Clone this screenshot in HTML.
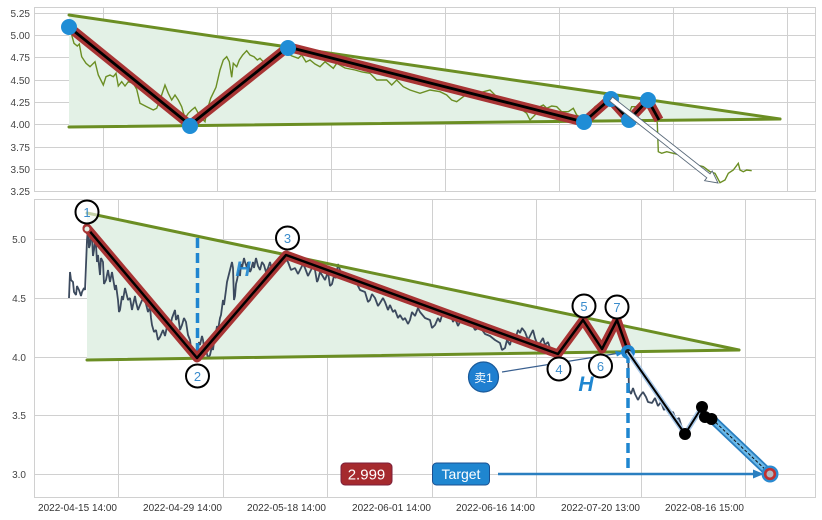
<!DOCTYPE html>
<html><head><meta charset="utf-8"><style>
html,body{margin:0;padding:0;background:#fff;}
svg{display:block;font-family:"Liberation Sans","Noto Sans CJK SC",sans-serif;}
</style></head><body>
<svg width="822" height="520" viewBox="0 0 822 520" xmlns="http://www.w3.org/2000/svg">
<!-- ================= TOP CHART ================= -->
<g stroke="#d0d0d0" stroke-width="1" fill="none">
  <rect x="34.5" y="7.5" width="781" height="184"/>
  <line x1="34" y1="13.5" x2="816" y2="13.5"/>
  <line x1="34" y1="35.5" x2="816" y2="35.5"/>
  <line x1="34" y1="57.5" x2="816" y2="57.5"/>
  <line x1="34" y1="80.5" x2="816" y2="80.5"/>
  <line x1="34" y1="102.5" x2="816" y2="102.5"/>
  <line x1="34" y1="124.5" x2="816" y2="124.5"/>
  <line x1="34" y1="147.5" x2="816" y2="147.5"/>
  <line x1="34" y1="169.5" x2="816" y2="169.5"/>
  <line x1="103.5" y1="7" x2="103.5" y2="192"/>
  <line x1="217.5" y1="7" x2="217.5" y2="192"/>
  <line x1="331.5" y1="7" x2="331.5" y2="192"/>
  <line x1="445.5" y1="7" x2="445.5" y2="192"/>
  <line x1="559.5" y1="7" x2="559.5" y2="192"/>
  <line x1="673.5" y1="7" x2="673.5" y2="192"/>
  <line x1="787.5" y1="7" x2="787.5" y2="192"/>
</g>
<g font-size="10" fill="#444" text-anchor="end">
  <text x="30" y="17">5.25</text>
  <text x="30" y="39">5.00</text>
  <text x="30" y="61">4.75</text>
  <text x="30" y="84">4.50</text>
  <text x="30" y="106">4.25</text>
  <text x="30" y="128">4.00</text>
  <text x="30" y="151">3.75</text>
  <text x="30" y="173">3.50</text>
  <text x="30" y="195">3.25</text>
</g>
<polygon points="69,15 780,119 69,127" fill="#e3f1e6"/>
<polyline fill="none" stroke="#6b8e23" stroke-width="1.4" points="71.7,35 74,43.3 77.3,46 79.3,44 81.7,56.7 86,63.3 90,66.7 95,61.7 98.3,75 103.3,85 106,76.7 110,75 113.3,76.7 116,73.3 118.3,86 121.7,81.7 125,86 128.3,81.7 133.3,83.3 136.7,89.3 140,103.3 146.7,106.7 153.3,110 156.7,108.3 160,100 165,85 168.3,93.3 171.7,100 175,95 178.3,100 181.7,106.7 185,118.3 188.3,113.3 191.7,110 195,107.3 198.3,113.3 201.7,118.3 205,121.7 206.7,111.7 210.7,98.3 216,87.3 220,70 223.3,60 226.7,56.7 229.3,61.7 231.7,77.3 233.3,63.3 236.7,66.7 239.3,60 242.7,55 246.7,50.7 250,55 254,56.7 257.3,60 260,58.3 263.3,61.7 266.7,60 275,55 286.7,53.3 292,56 298.3,58.3 301.7,55 306,62 310,60 315,64 320,66.7 325,61.7 333.3,68.3 336.7,63.3 345,68 355,70 362,72 370,73.3 376.7,80 386.7,80 391.7,85 396.7,80 403.3,86.7 410,90 420,93.3 430,90 440,91.7 446.7,95 451.7,100 456.7,101.7 463.3,96.7 473.3,90 480,92.7 490,90 496.7,96.7 510,103.3 520,108.3 526.7,113.3 530,120 535,115 540,106.7 543.3,105 546.7,108.3 551.7,106 556.7,106.7 561.7,111.7 568.3,111.7 573.3,108.3 576.7,115 581.7,118.3 588.3,115 595,106.7 600,103.3 606.7,100 610,98.3 616.7,105 623.3,111.7 628.3,115 631.7,106.7 640,106.7 646.7,100 651.7,106.7 656.7,120 657.3,123.3 658.3,151.7 661.7,153.3 666.7,151.7 673.3,153.3 680,155 685,160 690,161.7 696.7,165 703.3,166.7 710,171.7 715,173.3 720,182.7 725,180 728.3,173.3 733.3,170 738.3,163.3 740,170 743.3,171.7 746.7,170 751.7,170.7"/>
<g stroke="#6b8e23" stroke-width="3" stroke-linecap="round">
  <line x1="69" y1="15" x2="780" y2="119"/>
  <line x1="69" y1="127" x2="780" y2="119"/>
</g>
<polyline fill="none" stroke="#a83434" stroke-width="9.5" stroke-linejoin="round" points="69,27 190,125 288,47 584,122 610,99 629,120 648,100 659,120"/>
<polyline fill="none" stroke="#000" stroke-width="2.8" stroke-linejoin="round" points="69,27 190,125 288,47 584,122 610,99 629,120 648,100 659,120"/>
<g fill="#1f8dd6">
  <circle cx="69" cy="27" r="8"/>
  <circle cx="190" cy="126" r="8"/>
  <circle cx="288" cy="48" r="8"/>
  <circle cx="584" cy="122" r="8"/>
  <circle cx="611" cy="99" r="8"/>
  <circle cx="629" cy="120" r="8"/>
  <circle cx="648" cy="100" r="8"/>
</g>
<polygon points="609.5,101 706.8,177.8 704.6,180.7 718,183 712.2,171 710,173.9 612.5,97" fill="#fff" stroke="#5a6a7a" stroke-width="0.9"/>

<!-- ================= BOTTOM CHART ================= -->
<g stroke="#d0d0d0" stroke-width="1" fill="none">
  <rect x="34.5" y="199.5" width="781" height="298"/>
  <line x1="34" y1="239.5" x2="816" y2="239.5"/>
  <line x1="34" y1="298.5" x2="816" y2="298.5"/>
  <line x1="34" y1="357.5" x2="816" y2="357.5"/>
  <line x1="34" y1="415.5" x2="816" y2="415.5"/>
  <line x1="34" y1="474.5" x2="816" y2="474.5"/>
  <line x1="118.5" y1="199" x2="118.5" y2="497"/>
  <line x1="223.5" y1="199" x2="223.5" y2="497"/>
  <line x1="327.5" y1="199" x2="327.5" y2="497"/>
  <line x1="432.5" y1="199" x2="432.5" y2="497"/>
  <line x1="536.5" y1="199" x2="536.5" y2="497"/>
  <line x1="641.5" y1="199" x2="641.5" y2="497"/>
  <line x1="745.5" y1="199" x2="745.5" y2="497"/>
</g>
<g font-size="10" fill="#444" text-anchor="end">
  <text x="26" y="243">5.0</text>
  <text x="26" y="302">4.5</text>
  <text x="26" y="361">4.0</text>
  <text x="26" y="419">3.5</text>
  <text x="26" y="478">3.0</text>
</g>
<g font-size="10" fill="#333" text-anchor="end">
  <text x="117" y="511">2022-04-15 14:00</text>
  <text x="222" y="511">2022-04-29 14:00</text>
  <text x="326" y="511">2022-05-18 14:00</text>
  <text x="431" y="511">2022-06-01 14:00</text>
  <text x="535" y="511">2022-06-16 14:00</text>
  <text x="640" y="511">2022-07-20 13:00</text>
  <text x="744" y="511">2022-08-16 15:00</text>
</g>
<polygon points="87,213 739,350 87,360" fill="#e3f1e6"/>
<!-- candles -->
<polyline fill="none" stroke="#3c4a5e" stroke-width="1.8" stroke-linejoin="bevel" points="69,298 70,272 71,280 73,282 74,292 76,295 77,286 79,290 81,296 82,292 84,288 85,290 86,265 87,240 88,228 89,248 90,245 91,232 92,238 93,256 94,250 95,240 96,245 97,262 98,255 100,275 101,258 103,262 104,284 106,280 108,270 110,282 112,272 113,278 115,290 116,285 118,300 119,312 120,310 122,296 123,300 125,288 126,292 128,300 130,298 132,310 133,305 135,296 136,302 138,310 140,305 143,298 145,300 148,312 150,307 151,318 152,325 154,332 156,330 158,340 160,337 163,330 165,336 168,322 170,328 172,318 175,310 176,320 178,315 180,330 182,325 184,318 186,322 188,335 190,340 192,356 193,352 195,360 197,356 199,342 200,345 202,336 203,340 205,354 206,350 208,358 210,355 212,346 213,350 214,342 215,338 217,326 218,330 220,318 221,315 223,300 224,305 226,290 227,282 229,274 230,270 232,262 233,268 234,300 235,296 236,284 237,280 239,270 240,276 241,264 242,268 244,258 245,262 247,268 248,262 250,272 251,270 253,262 254,268 256,258 258,266 260,270 262,262 264,265 266,272 268,268 270,262 272,270 274,266 276,263 279,268 282,264 285,258 288,262 291,270 295,268 298,274 300,270 303,264 305,268 308,276 310,272 313,266 315,270 317,282 318,280 320,272 322,275 325,280 328,272 330,286 332,284 334,276 336,278 338,264 340,270 342,278 345,275 350,282 355,280 360,290 365,292 368,302 370,300 372,294 375,298 378,306 380,303 383,298 385,302 388,310 390,305 393,312 395,310 398,318 400,315 403,320 405,318 408,324 410,320 412,312 415,316 418,308 420,312 425,318 430,320 432,328 435,325 438,318 440,322 443,312 445,310 448,316 450,312 453,322 455,318 458,326 460,322 465,318 470,320 475,330 480,327 485,334 490,336 495,340 500,343 502,350 505,348 507,340 510,345 512,336 515,340 518,330 520,333 522,328 525,332 528,340 530,336 533,330 535,338 538,346 540,343 543,338 545,345 548,342 550,348 555,350 558,350 563,342 570,335 575,326 578,325 583,322 587,330 590,335 595,342 600,345 605,340 608,335 612,328 616,323 620,334 622,340 626,348 628,350 629,390 631,394 633,388 635,394 638,400 640,396 643,392 646,397 648,402 652,403 655,398 658,406 661,402 664,410 667,406 670,414 673,412 676,420 679,418 682,428"/>
<g stroke="#6b8e23" stroke-width="3" stroke-linecap="round">
  <line x1="87" y1="213" x2="739" y2="350"/>
  <line x1="87" y1="360" x2="739" y2="350"/>
</g>
<!-- blue dashed verticals -->
<g stroke="#1f86d0" stroke-width="3.5" stroke-dasharray="10,5">
  <line x1="197.5" y1="238" x2="197.5" y2="358"/>
  <line x1="628" y1="353" x2="628" y2="474"/>
</g>
<!-- zigzag -->
<polyline fill="none" stroke="#a83434" stroke-width="9" stroke-linejoin="round" stroke-linecap="round" points="87,228 197,358 286,255 558,354 583,320 602,349 617,320 628,351"/>
<polyline fill="none" stroke="#000" stroke-width="2.5" stroke-linejoin="round" points="87,228 197,358 286,255 558,354 583,320 602,349 617,320 628,351"/>
<circle cx="87" cy="229" r="3.5" fill="#e3f1e6" stroke="#a83434" stroke-width="2"/>
<!-- H labels -->
<g font-size="21" font-weight="bold" font-style="italic" fill="#1f86d0" text-anchor="middle">
  <text x="243" y="276" fill-opacity="0.9">H</text>
  <text x="586" y="391">H</text>
</g>
<!-- 卖1 -->
<line x1="502" y1="372" x2="620" y2="353" stroke="#3a6090" stroke-width="1.2"/>
<polygon points="624,352.5 615,351 617,356.5" fill="#1f86d0"/>
<circle cx="483.5" cy="377" r="15" fill="#1f7fd0" stroke="#1a5a9a" stroke-width="1.2"/>
<text x="483.5" y="382" font-size="12" fill="#fff" text-anchor="middle">卖1</text>
<!-- break point circle -->
<circle cx="628" cy="352" r="7" fill="#1f86d0"/>
<circle cx="628" cy="352" r="3" fill="#1a1a1a"/>
<!-- projection path -->
<polyline fill="none" stroke="#a8c8e8" stroke-width="5" stroke-linejoin="round" points="628,352 685,434 702,407 705,417 712,419"/>
<polyline fill="none" stroke="#000" stroke-width="2" stroke-linejoin="round" points="628,352 685,434 702,407 705,417 712,419"/>
<line x1="712" y1="419" x2="770" y2="474" stroke="#2a7fc0" stroke-width="9" stroke-linecap="round"/>
<line x1="712" y1="419" x2="770" y2="474" stroke="#6ab8e8" stroke-width="5.5" stroke-linecap="round"/>
<line x1="712" y1="419" x2="770" y2="474" stroke="#111" stroke-width="1" stroke-dasharray="3,2"/>
<g fill="#000">
  <circle cx="685" cy="434" r="6"/>
  <circle cx="702" cy="407" r="6"/>
  <circle cx="705" cy="417" r="6"/>
  <circle cx="711.5" cy="419" r="6"/>
</g>
<!-- target line -->
<line x1="498" y1="474" x2="756" y2="474" stroke="#2a7fc0" stroke-width="2.5"/>
<polygon points="764,474 753,469.5 753,478.5" fill="#2a7fc0"/>
<circle cx="770" cy="474" r="8.5" fill="#2a8ad0"/>
<circle cx="770" cy="474" r="4.8" fill="#b0b8c0" stroke="#c03030" stroke-width="2.6"/>
<!-- circle labels -->
<g fill="#fff" stroke="#000" stroke-width="2">
  <circle cx="87" cy="212" r="11.5" fill-opacity="0.6"/>
  <circle cx="197.5" cy="376" r="11.5"/>
  <circle cx="287.5" cy="238" r="11.5"/>
  <circle cx="559" cy="369" r="11.5"/>
  <circle cx="584" cy="306" r="11.5"/>
  <circle cx="600.5" cy="366" r="11.5"/>
  <circle cx="617" cy="307" r="11.5"/>
</g>
<g font-size="13" fill="#3a8ccc" text-anchor="middle">
  <text x="87" y="217">1</text>
  <text x="197.5" y="381">2</text>
  <text x="287.5" y="243">3</text>
  <text x="559" y="374">4</text>
  <text x="584" y="311">5</text>
  <text x="600.5" y="371">6</text>
  <text x="617" y="312">7</text>
</g>
<!-- boxes -->
<rect x="341" y="463" width="51" height="22" rx="4" fill="#a52a2e" stroke="#7a1f3a" stroke-width="1"/>
<text x="366.5" y="479.5" font-size="15" fill="#fff" text-anchor="middle">2.999</text>
<rect x="432.5" y="463" width="57" height="22" rx="4" fill="#1f86d0" stroke="#1a4f90" stroke-width="1"/>
<text x="461" y="479" font-size="14" fill="#fff" text-anchor="middle">Target</text>
</svg>
</body></html>
